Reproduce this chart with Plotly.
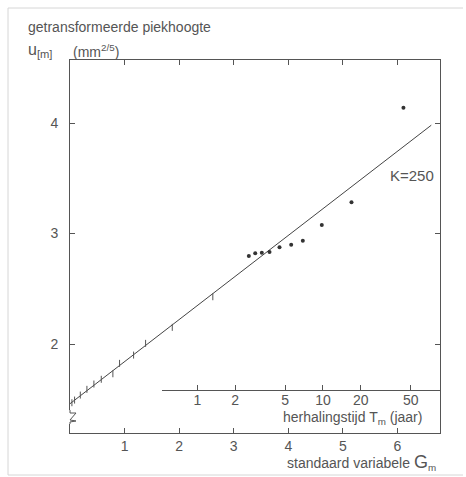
import math
import plotly.graph_objects as go

# ---------------- data ----------------
# standard Gumbel variable G_m and transformed peak height u_[m]
hash_G = [0.035, 0.084, 0.189, 0.310, 0.438, 0.573, 0.786, 0.908, 1.165, 1.385, 1.874, 2.617]
hash_u = [1.469, 1.493, 1.538, 1.590, 1.638, 1.681, 1.731, 1.825, 1.900, 2.006, 2.151, 2.428]
dot_G = [3.277, 3.394, 3.515, 3.656, 3.839, 4.053, 4.266, 4.614, 5.158, 6.110]
dot_u = [2.796, 2.821, 2.826, 2.833, 2.875, 2.899, 2.935, 3.077, 3.282, 4.138]
fit_G = [0.0, 6.62]
fit_u = [1.46, 3.98]
G_ticks = [1, 2, 3, 4, 5, 6]
u_ticks = [2, 3, 4]
u_labels = ["2", "3", "4"]
T_ticks = [1, 2, 5, 10, 20, 50]
events_per_year = 10.3

# ---------------- geometry ----------------
W, H = 466, 477
L, R, T, B = 70, 26, 60, 44
PW, PH = W - L - R, H - T - B
x_range = [0.0, 6.78]
y_range = [1.195, 4.57]

def px(x, y):
    return (x - L) / PW, (H - B - y) / PH

FONT = "Liberation Sans, Arial, sans-serif"
TXT = "#555555"
LIN = "#555555"

T_G = [math.log(events_per_year * t) for t in T_ticks]
d0 = (162 - L) / PW
x2_range = [x_range[0] + d0 * (x_range[1] - x_range[0]), x_range[1]]

fig = go.Figure()
fig.add_trace(go.Scatter(x=fit_G, y=fit_u, mode="lines",
                         line=dict(color="#444444", width=1),
                         hoverinfo="skip", showlegend=False))
fig.add_trace(go.Scatter(x=hash_G, y=hash_u, mode="markers",
                         marker=dict(symbol="line-ns-open", size=5, color="#555555",
                                     line=dict(color="#555555", width=1)),
                         showlegend=False))
fig.add_trace(go.Scatter(x=dot_G, y=dot_u, mode="markers",
                         marker=dict(symbol="circle", size=4, color="#333333"),
                         showlegend=False))
# carrier trace for the inner return-period axis
fig.add_trace(go.Scatter(x=x2_range, y=[None, None], xaxis="x2", yaxis="y",
                         mode="lines", hoverinfo="skip", showlegend=False))

axis_common = dict(showline=True, linecolor=LIN, linewidth=1, ticks="inside",
                   ticklen=5, tickcolor=LIN, showgrid=False, zeroline=False,
                   tickfont=dict(family=FONT, size=14, color=TXT))

fig.update_layout(
    width=W, height=H,
    margin=dict(l=L, r=R, t=T, b=B, pad=0),
    paper_bgcolor="white", plot_bgcolor="rgba(0,0,0,0)",
    font=dict(family=FONT, color=TXT),
    xaxis=dict(range=x_range, tickvals=G_ticks, mirror="ticks", **axis_common),
    yaxis=dict(range=y_range, tickvals=u_ticks,
               ticktext=[s + "\u00a0\u00a0" for s in u_labels],
               mirror="ticks", **axis_common),
    xaxis2=dict(range=x2_range, domain=[d0, 1], anchor="free",
                position=(H - B - 390) / PH, side="bottom",
                tickvals=T_G, ticktext=[str(t) for t in T_ticks],
                ticklabelstandoff=-3, **axis_common),
)

shapes = []
# outer faint border
for (a, b, c, d) in [(8, 8, 463, 8), (8, 8, 8, 475), (8, 475, 463, 475)]:
    x0, y0 = px(a, b); x1, y1 = px(c, d)
    shapes.append(dict(type="line", xref="paper", yref="paper", x0=x0, y0=y0,
                       x1=x1, y1=y1, line=dict(color="#d6d6d6", width=1)))
# break in left axis
x0, y0 = px(66, 410); x1, y1 = px(72, 424)
shapes.append(dict(type="rect", xref="paper", yref="paper", x0=x0, y0=y0, x1=x1,
                   y1=y1, fillcolor="white", line=dict(width=0), layer="above"))
zz = [(70, 410), (70, 413), (76, 413), (70, 420), (76, 421), (70, 422), (70, 424)]
path = "M " + " L ".join("%f,%f" % px(a, b) for a, b in zz)
shapes.append(dict(type="path", xref="paper", yref="paper", path=path,
                   line=dict(color=LIN, width=1), layer="above"))
fig.update_layout(shapes=shapes)

def ann(text, x, y, size, xanchor="left"):
    xp, yp = px(x, y)
    fig.add_annotation(text=text, x=xp, y=yp, xref="paper", yref="paper",
                       xanchor=xanchor, yanchor="middle", showarrow=False,
                       font=dict(family=FONT, size=size, color=TXT))

ann("getransformeerde piekhoogte", 26, 27, 14)
ann("u<sub>[m]</sub>", 26, 51, 16)
ann("(mm<sup>2/5</sup>)", 71, 51, 14)
ann("K=250", 436, 175, 15, "right")
ann("herhalingstijd T<sub>m</sub> (jaar)", 352, 418, 14, "center")
ann("standaard variabele <span style='font-size:18px'>G</span><sub>m</sub>", 438, 462, 14, "right")

fig.write_html("out.html")
